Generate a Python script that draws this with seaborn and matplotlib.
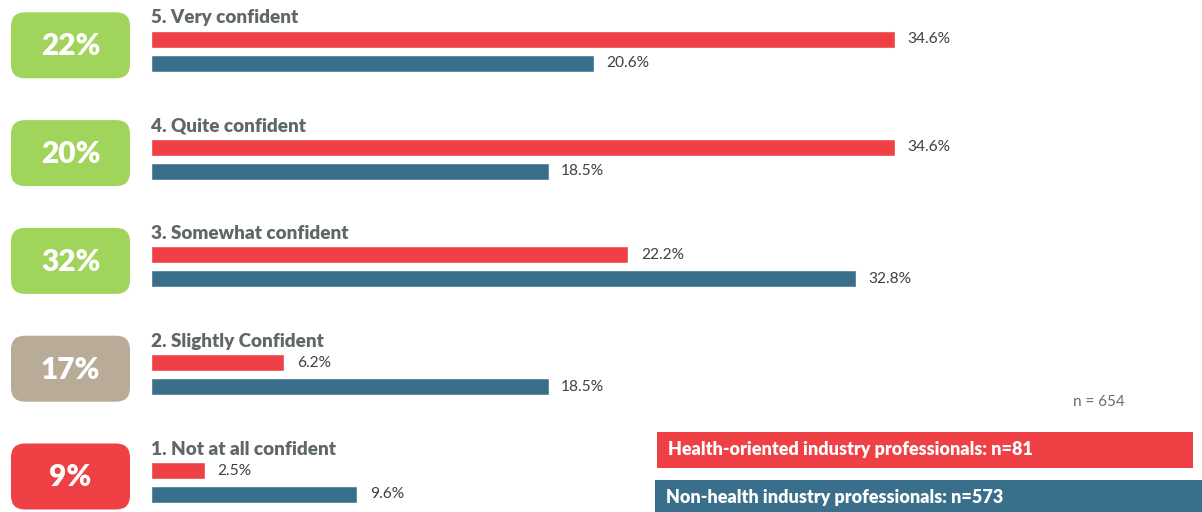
import matplotlib
matplotlib.use("Agg")
import matplotlib.pyplot as plt
import seaborn as sns
import pandas as pd
from matplotlib.patches import FancyBboxPatch, Rectangle

# Survey results: confidence level by respondent group
categories = ["5. Very confident", "4. Quite confident", "3. Somewhat confident",
              "2. Slightly Confident", "1. Not at all confident"]
overall_pct = [22, 20, 32, 17, 9]
health_pct = [34.6, 34.6, 22.2, 6.2, 2.5]
non_health_pct = [20.6, 18.5, 32.8, 18.5, 9.6]
series_names = ["Health-oriented industry professionals", "Non-health industry professionals"]
series_n = [81, 573]
total_n = 654

RED = "#ee4045"
BLUE = "#3a6f8b"
GREEN = "#a1d45b"
BEIGE = "#b8ab98"
LABEL_GRAY = "#5f6769"
VALUE_GRAY = "#404040"
badge_colors = [GREEN, GREEN, GREEN, BEIGE, RED]

FONT = "Lato"

df = pd.DataFrame({
    "category": categories * 2,
    "value": health_pct + non_health_pct,
    "series": [series_names[0]] * len(categories) + [series_names[1]] * len(categories),
})

sns.set_theme(style="white")
plt.rcParams["font.family"] = [FONT, "DejaVu Sans"]

W, H = 1202, 512
fig = plt.figure(figsize=(W / 100, H / 100), dpi=100)

# Main bar axes spans the full figure; limits place 0% and the rows
ax = fig.add_axes([0, 0, 1, 1])
px_per_pct = 21.5
x0_px = 151
row0_px, row_step_px = 51.3, 107.8

sns.barplot(data=df, y="category", x="value", hue="series", orient="h",
            palette=[RED, BLUE], width=0.445, gap=0.29, dodge=True,
            saturation=1, legend=False, ax=ax)
ax.set_xlim(-x0_px / px_per_pct, (W - x0_px) / px_per_pct)
ax.set_ylim((H - row0_px) / row_step_px, -row0_px / row_step_px)
ax.axis("off")

for cont in ax.containers:
    ax.bar_label(cont, labels=[f"{b.get_width():.1f}%" for b in cont], padding=9,
                 fontsize=11.2, color=VALUE_GRAY, family=[FONT, "DejaVu Sans"])

for i, cat in enumerate(categories):
    ax.text(0, i - 0.31, cat, ha="left", va="center", fontsize=13.6,
            fontweight="heavy", color=LABEL_GRAY)

# Overlay in pixel units for the badges and group boxes
ov = fig.add_axes([0, 0, 1, 1], zorder=3)
ov.set_xlim(0, W)
ov.set_ylim(H, 0)
ov.axis("off")
ov.patch.set_alpha(0)

for i, (pct, col) in enumerate(zip(overall_pct, badge_colors)):
    cy = row0_px + i * row_step_px - 6
    ov.add_patch(FancyBboxPatch((11 + 14, cy - 33 + 14), 119 - 28, 66 - 28,
                                boxstyle="round,pad=14", facecolor=col,
                                edgecolor="none"))
    ov.text(70.5, cy + 1, f"{pct}%", ha="center", va="center", fontsize=21.5,
            fontweight="heavy", color="white")

ov.text(1099, 402, f"n = {total_n}", ha="center", va="center", fontsize=11,
        color="#6b6b6b")

boxes = [(657, 432, 1193 - 657, 36), (655, 480, W - 655, 40)]
for (bx, by, bw, bh), name, n, col in zip(boxes, series_names, series_n, [RED, BLUE]):
    ov.add_patch(Rectangle((bx, by), bw, bh, facecolor=col, edgecolor="none"))
    ov.text(bx + 11, by + 18, f"{name}: n={n}", ha="left", va="center",
            fontsize=13, fontweight="heavy", color="white")

fig.savefig("out.png", dpi=100)
